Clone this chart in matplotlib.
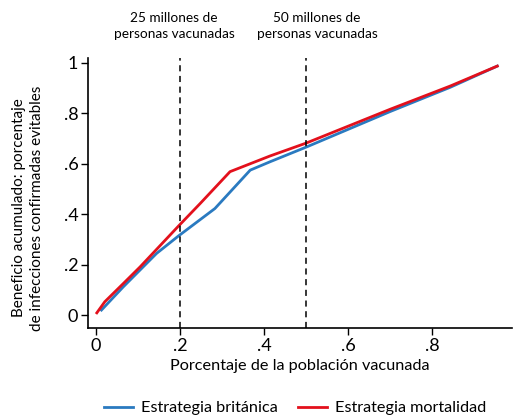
import numpy as np
import matplotlib
matplotlib.use("Agg")
import matplotlib.pyplot as plt

plt.rcParams['font.family'] = ['Lato', 'DejaVu Sans']

# porcentaje de la poblacion vacunada / beneficio acumulado
x_brit = [0.013, 0.065, 0.144, 0.196, 0.283, 0.367, 0.414, 0.5, 0.7, 0.843, 0.955]
y_brit = [0.020, 0.112, 0.244, 0.313, 0.422, 0.574, 0.607, 0.665, 0.806, 0.902, 0.986]
x_mort = [0.002, 0.021, 0.065, 0.105, 0.144, 0.196, 0.248, 0.319, 0.414, 0.5, 0.7, 0.843, 0.955]
y_mort = [0.009, 0.053, 0.125, 0.191, 0.260, 0.352, 0.442, 0.568, 0.630, 0.681, 0.815, 0.907, 0.986]

marks = [0.2, 0.5]
mark_labels = ["25 millones de\npersonas vacunadas", "50 millones de\npersonas vacunadas"]
mark_label_x = [0.186, 0.526]
xticks = [0, 0.2, 0.4, 0.6, 0.8]
xticklabels = ["0", ".2", ".4", ".6", ".8"]
yticks = [0, 0.2, 0.4, 0.6, 0.8, 1]
yticklabels = ["0", ".2", ".4", ".6", ".8", "1"]

W, H = 515, 418
fig = plt.figure(figsize=(W / 100, H / 100), dpi=100)
ax = fig.add_axes([88 / W, (H - 328) / H, (512 - 88) / W, (328 - 58) / H])

ax.plot(x_brit, y_brit, color="#2a7ac0", lw=2, label="Estrategia británica")
ax.plot(x_mort, y_mort, color="#e3101c", lw=2, label="Estrategia mortalidad")
for m in marks:
    ax.axvline(m, color="black", lw=1.1, ls=(0, (4, 3)))

ax.set_xlim(-0.019, 0.99)
ax.set_ylim(-0.051, 1.018)
ax.spines['top'].set_visible(False)
ax.spines['right'].set_visible(False)
ax.spines['left'].set_linewidth(1.2)
ax.spines['bottom'].set_linewidth(1.2)
ax.set_xticks(xticks)
ax.set_xticklabels(xticklabels, fontsize=13)
ax.set_yticks(yticks)
ax.set_yticklabels(yticklabels, fontsize=13)
ax.tick_params(length=5, width=1, direction="out", pad=2)

ax.set_xlabel("Porcentaje de la población vacunada", fontsize=11.7, labelpad=4)
fig.text(28 / W, 1 - 208 / H,
         "Beneficio acumulado: porcentaje\nde infecciones confirmadas evitables",
         rotation=90, ha="center", va="center", fontsize=11, linespacing=1.45)

for lx, lab in zip(mark_label_x, mark_labels):
    ax.text(lx, 1.118, lab, ha="center", va="center", fontsize=9.8,
            transform=ax.get_xaxis_transform(), linespacing=1.45)

fig.legend(loc="center", bbox_to_anchor=(295 / W, 1 - 408 / H), ncol=2, frameon=False,
           fontsize=11.7, handlelength=1.8, handletextpad=0.5, columnspacing=1.2)

fig.savefig("out.png", dpi=100)
